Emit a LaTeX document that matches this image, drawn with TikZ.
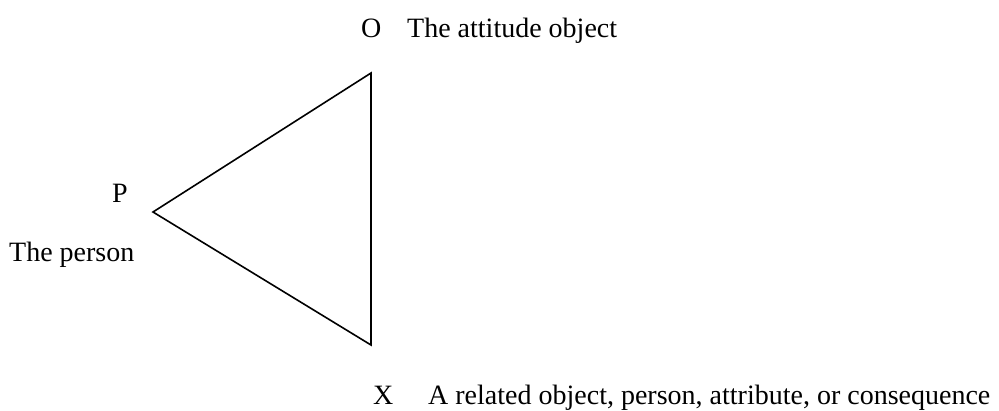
\documentclass[tikz,border=0pt]{standalone}
\usepackage{fontspec}
\setmainfont{Liberation Serif}
\begin{document}
\begin{tikzpicture}[x=1pt,y=-1pt,
  lbl/.style={anchor=base west, inner sep=0pt, font=\fontsize{28}{34}\selectfont},
  edge/.style={line width=1.6pt, line join=miter}]
\useasboundingbox (0,0) rectangle (999,410);
\fill[white] (0,0) rectangle (999,410);
\coordinate (O) at (371,73);
\coordinate (P) at (153,212);
\coordinate (X) at (371,345);
\draw[edge] (O) -- (P) -- (X) -- cycle;
\node[lbl] (olbl) at (361,37) {O};
\node[lbl] (otxt) at (407,37) {The attitude object};
\node[lbl] (plbl) at (112,202) {P};
\node[lbl] (ptxt) at (9,261) {The person};
\node[lbl] (xlbl) at (373,404) {X};
\node[lbl] (xtxt) at (428,404) {A related object, person, attribute, or consequence};
\end{tikzpicture}
\end{document}
